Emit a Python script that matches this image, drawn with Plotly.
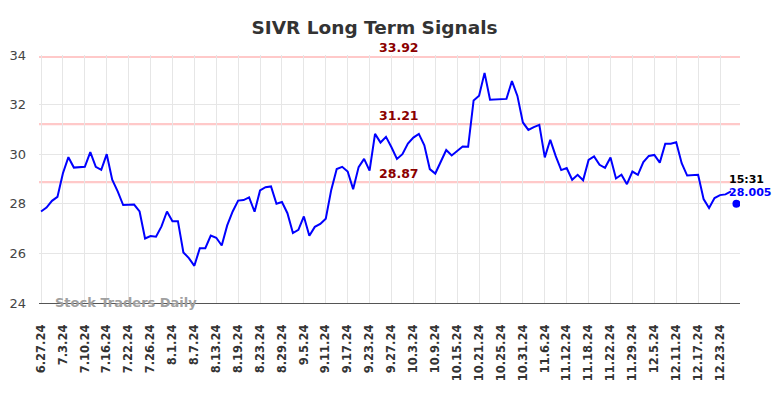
import plotly.graph_objects as go

dates = [
    "6.27.24", "6.28.24",
    "7.1.24", "7.2.24", "7.3.24", "7.5.24", "7.8.24", "7.9.24", "7.10.24", "7.11.24", "7.12.24",
    "7.15.24", "7.16.24", "7.17.24", "7.18.24", "7.19.24", "7.22.24", "7.23.24", "7.24.24",
    "7.25.24", "7.26.24", "7.29.24", "7.30.24", "7.31.24",
    "8.1.24", "8.2.24", "8.5.24", "8.6.24", "8.7.24", "8.8.24", "8.9.24", "8.12.24", "8.13.24",
    "8.14.24", "8.15.24", "8.16.24", "8.19.24", "8.20.24", "8.21.24", "8.22.24", "8.23.24",
    "8.26.24", "8.27.24", "8.28.24", "8.29.24", "8.30.24",
    "9.3.24", "9.4.24", "9.5.24", "9.6.24", "9.9.24", "9.10.24", "9.11.24", "9.12.24", "9.13.24",
    "9.16.24", "9.17.24", "9.18.24", "9.19.24", "9.20.24", "9.23.24", "9.24.24", "9.25.24",
    "9.26.24", "9.27.24", "9.30.24",
    "10.1.24", "10.2.24", "10.3.24", "10.4.24", "10.7.24", "10.8.24", "10.9.24", "10.10.24",
    "10.11.24", "10.14.24", "10.15.24", "10.16.24", "10.17.24", "10.18.24", "10.21.24",
    "10.22.24", "10.23.24", "10.24.24", "10.25.24", "10.28.24", "10.29.24", "10.30.24", "10.31.24",
    "11.1.24", "11.4.24", "11.5.24", "11.6.24", "11.7.24", "11.8.24", "11.11.24", "11.12.24",
    "11.13.24", "11.14.24", "11.15.24", "11.18.24", "11.19.24", "11.20.24", "11.21.24",
    "11.22.24", "11.25.24", "11.26.24", "11.27.24", "11.29.24",
    "12.2.24", "12.3.24", "12.4.24", "12.5.24", "12.6.24", "12.9.24", "12.10.24", "12.11.24",
    "12.12.24", "12.13.24", "12.16.24", "12.17.24", "12.18.24", "12.19.24", "12.20.24",
    "12.23.24", "12.24.24", "12.26.24", "12.27.24",
]

prices = [
    27.69, 27.85, 28.12, 28.28, 29.23, 29.88, 29.46, 29.46, 29.49, 30.08,
    29.49, 29.37, 30.00, 28.97, 28.50, 27.95, 27.95, 27.97, 27.69, 26.60,
    26.70, 26.67, 27.09, 27.69, 27.30, 27.30, 26.04, 25.81, 25.50, 26.21,
    26.21, 26.72, 26.63, 26.32, 27.13, 27.69, 28.13, 28.15, 28.26, 27.68,
    28.54, 28.67, 28.70, 28.00, 28.07, 27.62, 26.82, 26.95, 27.49, 26.71,
    27.07, 27.19, 27.40, 28.56, 29.40, 29.49, 29.30, 28.59, 29.48, 29.81,
    29.34, 30.82, 30.47, 30.70, 30.28, 29.81, 30.00, 30.43, 30.67, 30.82,
    30.36, 29.40, 29.22, 29.70, 30.17, 29.95, 30.13, 30.31, 30.30, 32.17,
    32.36, 33.28, 32.20, 32.20, 32.23, 32.23, 32.95, 32.35, 31.28, 30.98,
    31.09, 31.18, 29.87, 30.58, 29.92, 29.36, 29.44, 28.97, 29.17, 28.95,
    29.77, 29.91, 29.57, 29.45, 29.87, 29.02, 29.17, 28.79, 29.30, 29.17,
    29.68, 29.93, 29.97, 29.66, 30.42, 30.42, 30.48, 29.64, 29.14, 29.17,
    29.17, 28.19, 27.83, 28.23, 28.35, 28.38, 28.50,
]

last_date = "12.27.24"
last_price = 28.005
last_time = "15:31"

signal_levels = [33.92, 31.21, 28.87]
signal_labels = ["33.92", "31.21", "28.87"]

tick_labels = [
    "6.27.24", "7.3.24", "7.10.24", "7.16.24", "7.22.24", "7.26.24", "8.1.24", "8.7.24",
    "8.13.24", "8.19.24", "8.23.24", "8.29.24", "9.5.24", "9.11.24", "9.17.24", "9.23.24",
    "9.27.24", "10.3.24", "10.9.24", "10.15.24", "10.21.24", "10.25.24", "10.31.24",
    "11.6.24", "11.12.24", "11.18.24", "11.22.24", "11.29.24", "12.5.24", "12.11.24",
    "12.17.24", "12.23.24",
]
y_ticks = [24, 26, 28, 30, 32, 34]

fig = go.Figure()

fig.add_trace(go.Scatter(
    x=dates[:len(prices)], y=prices, mode="lines",
    line=dict(color="#0000ff", width=2), hoverinfo="skip", showlegend=False,
))
fig.add_trace(go.Scatter(
    x=[last_date], y=[last_price], mode="markers",
    marker=dict(color="#0000ff", size=8), hoverinfo="skip", showlegend=False,
))

for lvl, lab in zip(signal_levels, signal_labels):
    fig.add_shape(type="line", xref="paper", x0=0, x1=1, yref="y", y0=lvl, y1=lvl,
                  line=dict(color="rgba(255,195,195,0.9)", width=2.2), layer="below")
    fig.add_annotation(x=0.514, xref="paper", y=lvl, yref="y", text=lab, showarrow=False,
                       yanchor="middle", yshift=9,
                       font=dict(family="DejaVu Sans", size=12.5, color="#8b0000", weight="bold"))

fig.add_annotation(x=last_date, y=last_price, text=last_time, showarrow=False,
                   xanchor="left", yanchor="middle", xshift=-9, yshift=24,
                   font=dict(family="DejaVu Sans", size=11, color="#000000", weight="bold"))
fig.add_annotation(x=last_date, y=last_price, text=f"{last_price:.3f}", showarrow=False,
                   xanchor="left", yanchor="middle", xshift=-9, yshift=11,
                   font=dict(family="DejaVu Sans", size=11, color="#0000ff", weight="bold"))

fig.add_annotation(x=0.02, xref="paper", y=24, yref="y", text="Stock Traders Daily",
                   showarrow=False, xanchor="left", yanchor="middle", yshift=1,
                   font=dict(family="DejaVu Sans", size=13, color="#a0a0a0", weight="bold"))

fig.update_layout(
    width=784, height=398,
    margin=dict(l=31, r=52, t=47, b=103, autoexpand=False),
    paper_bgcolor="white", plot_bgcolor="white",
    title=dict(text="<b>SIVR Long Term Signals</b>", x=0.4675, xref="container",
               xanchor="center", y=0.95, yref="container", yanchor="middle",
               font=dict(family="DejaVu Sans", size=18.5, color="#333333")),
    xaxis=dict(type="category", categoryorder="array", categoryarray=dates,
               range=[-0.37, 127.65], tickmode="array", tickvals=tick_labels,
               ticktext=tick_labels, tickangle=-90, showgrid=True, gridcolor="#e6e6e6",
               gridwidth=1, ticks="", showline=True, linecolor="#555555", linewidth=1,
               ticklabelstandoff=16,
               tickfont=dict(family="DejaVu Sans", size=11.5, color="#333333", weight="bold"),
               zeroline=False, fixedrange=True, automargin=False),
    yaxis=dict(range=[24, 34], tickvals=y_ticks, showgrid=True, gridcolor="#e6e6e6",
               gridwidth=1, ticks="", showline=False, zeroline=False, automargin=False,
               ticklabelstandoff=12,
               tickfont=dict(family="DejaVu Sans", size=13, color="#444444"), fixedrange=True),
)

fig.write_html("out.html")
